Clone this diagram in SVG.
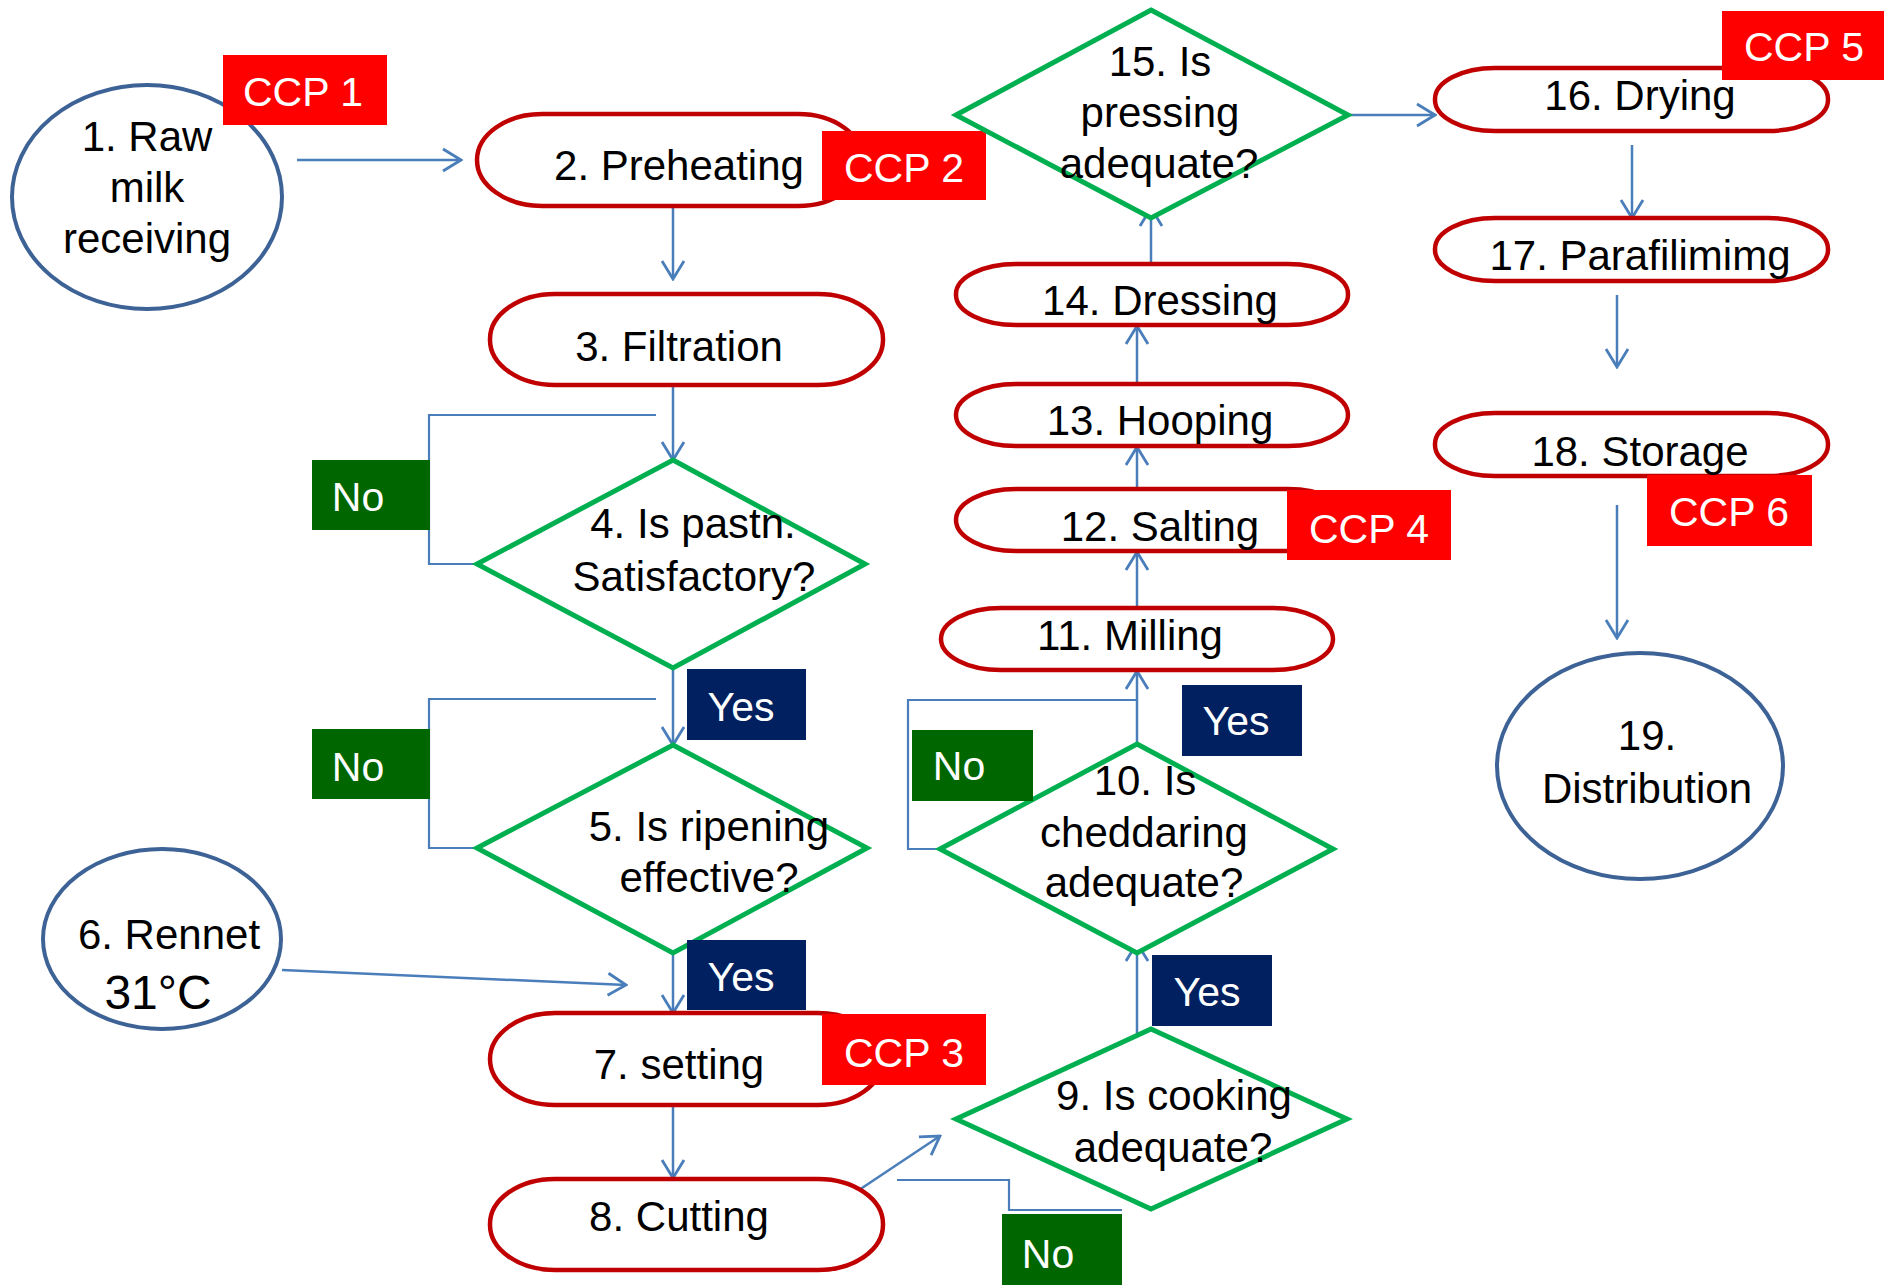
<svg xmlns="http://www.w3.org/2000/svg" width="1884" height="1285" viewBox="0 0 1884 1285">
<defs>
<style>
.pill{fill:#fff;stroke:#C00000;stroke-width:4.5}
.oval{fill:#fff;stroke:#3D6296;stroke-width:4}
.dia{fill:#fff;stroke:#00B050;stroke-width:5;stroke-linejoin:miter}
.t{font-family:"Liberation Sans",Arial,sans-serif;font-size:42px;fill:#000;text-anchor:middle}
.tag{font-family:"Liberation Sans",Arial,sans-serif;font-size:41px;fill:#fff;text-anchor:middle}
.ccp{fill:#FF0000}
.no{fill:#006600}
.yes{fill:#002060}
.c{fill:none;stroke:#4A7EBB;stroke-width:2.5}
.loop{fill:none;stroke:#4A7EBB;stroke-width:2.2}
</style>
<marker id="arr" viewBox="0 0 22 26" refX="20" refY="13" markerWidth="22" markerHeight="26" markerUnits="userSpaceOnUse" orient="auto">
<path d="M2,2 L20,13 L2,24" fill="none" stroke="#4A7EBB" stroke-width="2.8"/>
</marker>
</defs>
<rect width="1884" height="1285" fill="#fff"/>

<g id="connectors">
<path class="c" d="M297,160 L461,160" marker-end="url(#arr)"/>
<path class="c" d="M673,208 L673,279" marker-end="url(#arr)"/>
<path class="c" d="M673,387 L673,460" marker-end="url(#arr)"/>
<path class="c" d="M673,668 L673,745" marker-end="url(#arr)"/>
<path class="c" d="M673,953 L673,1013" marker-end="url(#arr)"/>
<path class="c" d="M282,970 L626,985" marker-end="url(#arr)"/>
<path class="c" d="M673,1106 L673,1178" marker-end="url(#arr)"/>
<path class="c" d="M853,1194 L940,1136" marker-end="url(#arr)"/>
<path class="c" d="M1137,1043 L1137,943" marker-end="url(#arr)"/>
<path class="c" d="M1137,745 L1137,671" marker-end="url(#arr)"/>
<path class="c" d="M1137,608 L1137,552" marker-end="url(#arr)"/>
<path class="c" d="M1137,500 L1137,447" marker-end="url(#arr)"/>
<path class="c" d="M1137,383 L1137,326" marker-end="url(#arr)"/>
<path class="c" d="M1151,263 L1151,208" marker-end="url(#arr)"/>
<path class="c" d="M1333,115 L1435,115" marker-end="url(#arr)"/>
<path class="c" d="M1632,145 L1632,218" marker-end="url(#arr)"/>
<path class="c" d="M1617,295 L1617,367" marker-end="url(#arr)"/>
<path class="c" d="M1617,505 L1617,638" marker-end="url(#arr)"/>
<path class="loop" d="M656,415 L429,415 L429,564 L477,564"/>
<path class="loop" d="M656,699 L429,699 L429,848 L477,848"/>
<path class="loop" d="M957,849 L908,849 L908,700 L1137,700"/>
<path class="loop" d="M897,1180 L1009,1180 L1009,1210 L1122,1210"/>
</g>

<g id="n1"><ellipse class="oval" cx="147" cy="197" rx="135" ry="112"/>
<text class="t" x="147" y="151">1. Raw</text><text class="t" x="147" y="202">milk</text><text class="t" x="147" y="253">receiving</text></g>
<g id="ccp1"><rect class="ccp" x="223" y="55" width="164" height="70"/><text class="tag" x="303" y="106">CCP 1</text></g>

<g id="n2"><rect class="pill" x="477" y="114" width="386" height="92" rx="65" ry="46"/><text class="t" x="679" y="180">2. Preheating</text></g>
<g id="ccp2"><rect class="ccp" x="822" y="131" width="164" height="69"/><text class="tag" x="904" y="182">CCP 2</text></g>

<g id="n3"><rect class="pill" x="490" y="294" width="393" height="91" rx="65" ry="45"/><text class="t" x="679" y="361">3. Filtration</text></g>

<g id="n4"><path class="dia" d="M673,460 L865,564 L673,668 L477,564 Z"/>
<text class="t" x="693" y="538">4. Is pastn.</text><text class="t" x="694" y="591">Satisfactory?</text></g>
<g id="no1"><rect class="no" x="312" y="460" width="118" height="70"/><text class="tag" x="358" y="511">No</text></g>
<g id="yes1"><rect class="yes" x="687" y="669" width="119" height="71"/><text class="tag" x="741" y="721">Yes</text></g>

<g id="n5"><path class="dia" d="M673,745 L867,848 L673,953 L477,848 Z"/>
<text class="t" x="709" y="841">5. Is ripening</text><text class="t" x="709" y="892">effective?</text></g>
<g id="no2"><rect class="no" x="312" y="729" width="118" height="70"/><text class="tag" x="358" y="781">No</text></g>
<g id="yes2"><rect class="yes" x="687" y="940" width="119" height="70"/><text class="tag" x="741" y="991">Yes</text></g>

<g id="n6"><ellipse class="oval" cx="162" cy="939" rx="119" ry="90"/>
<text class="t" x="169" y="949">6. Rennet</text><text class="t" x="158" y="1009" style="font-size:48px">31°C</text></g>

<g id="n7"><rect class="pill" x="490" y="1013" width="393" height="92" rx="65" ry="46"/><text class="t" x="679" y="1079">7. setting</text></g>
<g id="ccp3"><rect class="ccp" x="822" y="1014" width="164" height="71"/><text class="tag" x="904" y="1067">CCP 3</text></g>

<g id="n8"><rect class="pill" x="490" y="1179" width="393" height="91" rx="65" ry="45"/><text class="t" x="679" y="1231">8. Cutting</text></g>

<g id="n9"><path class="dia" d="M1151,1029 L1347,1119 L1151,1209 L956,1119 Z"/>
<text class="t" x="1174" y="1110">9. Is cooking</text><text class="t" x="1173" y="1162">adequate?</text></g>
<g id="no3"><rect class="no" x="1002" y="1214" width="120" height="71"/><text class="tag" x="1048" y="1268">No</text></g>
<g id="yes3"><rect class="yes" x="1152" y="955" width="120" height="71"/><text class="tag" x="1207" y="1006">Yes</text></g>

<g id="n10"><path class="dia" d="M1137,744 L1333,849 L1137,953 L940,849 Z"/>
<text class="t" x="1145" y="795">10. Is</text><text class="t" x="1144" y="847">cheddaring</text><text class="t" x="1144" y="897">adequate?</text></g>
<g id="no4"><rect class="no" x="912" y="730" width="121" height="71"/><text class="tag" x="959" y="780">No</text></g>
<g id="yes4"><rect class="yes" x="1182" y="685" width="120" height="71"/><text class="tag" x="1236" y="735">Yes</text></g>

<g id="n11"><rect class="pill" x="941" y="608" width="392" height="62" rx="60" ry="31"/><text class="t" x="1130" y="650">11. Milling</text></g>
<g id="n12"><rect class="pill" x="956" y="489" width="392" height="62" rx="60" ry="31"/><text class="t" x="1160" y="541">12. Salting</text></g>
<g id="ccp4"><rect class="ccp" x="1287" y="490" width="164" height="70"/><text class="tag" x="1369" y="543">CCP 4</text></g>
<g id="n13"><rect class="pill" x="956" y="384" width="392" height="62" rx="60" ry="31"/><text class="t" x="1160" y="435">13. Hooping</text></g>
<g id="n14"><rect class="pill" x="956" y="264" width="392" height="61" rx="60" ry="30"/><text class="t" x="1160" y="315">14. Dressing</text></g>

<g id="n15"><path class="dia" d="M1151,10 L1348,115 L1151,218 L956,115 Z"/>
<text class="t" x="1160" y="76">15. Is</text><text class="t" x="1160" y="127">pressing</text><text class="t" x="1159" y="178">adequate?</text></g>

<g id="n16"><rect class="pill" x="1435" y="68" width="393" height="63" rx="60" ry="31"/><text class="t" x="1640" y="110">16. Drying</text></g>
<g id="ccp5"><rect class="ccp" x="1722" y="11" width="162" height="69"/><text class="tag" x="1804" y="61">CCP 5</text></g>
<g id="n17"><rect class="pill" x="1435" y="218" width="393" height="63" rx="60" ry="31"/><text class="t" x="1640" y="270">17. Parafilimimg</text></g>
<g id="n18"><rect class="pill" x="1435" y="413" width="393" height="63" rx="60" ry="31"/><text class="t" x="1640" y="466">18. Storage</text></g>
<g id="ccp6"><rect class="ccp" x="1647" y="475" width="165" height="71"/><text class="tag" x="1729" y="526">CCP 6</text></g>
<g id="n19"><ellipse class="oval" cx="1640" cy="766" rx="143" ry="113"/>
<text class="t" x="1647" y="750">19.</text><text class="t" x="1647" y="803">Distribution</text></g>
</svg>
